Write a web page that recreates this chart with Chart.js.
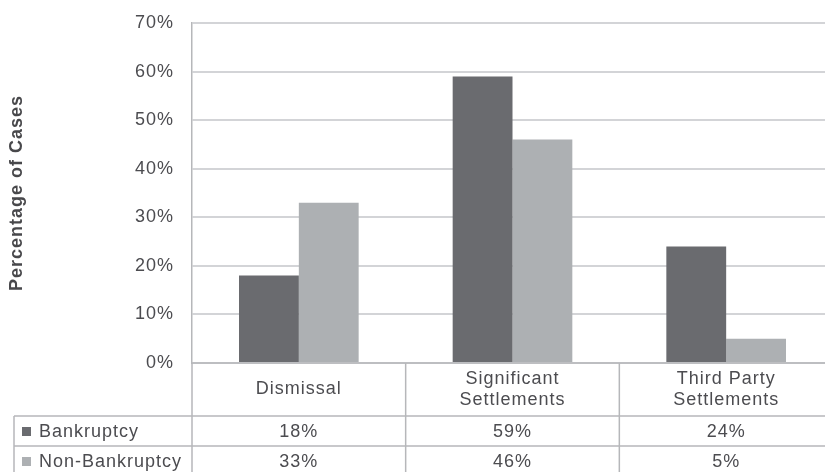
<!DOCTYPE html>
<html>
<head>
<meta charset="utf-8">
<script src="https://cdn.jsdelivr.net/npm/chart.js@4.4.0/dist/chart.umd.min.js"></script>
<style>
  html,body{margin:0;padding:0;background:#fff;overflow:hidden;}
  #wrap{width:825px;height:472px;overflow:hidden;}
</style>
</head>
<body>
<div id="wrap"><canvas id="chart" width="833" height="472"></canvas></div>
<script>
// data
const categories = [["Dismissal"], ["Significant", "Settlements"], ["Third Party", "Settlements"]];
const seriesNames = ["Bankruptcy", "Non-Bankruptcy"];
const bankruptcy = [18, 59, 24];
const nonBankruptcy = [33, 46, 5];
const yMax = 70, yStep = 10;

const colors = ["#6a6b6f", "#adb0b3"];
const textColor = "#4c4c50";
const lineColor = "#b6b7ba";
const fontFamily = "'Liberation Sans', Arial, sans-serif";

Chart.defaults.font.family = fontFamily;
Chart.defaults.font.size = 18;
Chart.defaults.color = textColor;

// tiny letter spacing to match the wide-ish print type
const spacing = {
  id: "spacing",
  beforeDraw(chart){ chart.ctx.letterSpacing = "1px"; }
};

// data table under the plot, columns follow the x scale
const dataTable = {
  id: "dataTable",
  afterDraw(chart){
    const ctx = chart.ctx, area = chart.chartArea, xs = chart.scales.x;
    const n = categories.length;
    const colW = (area.right - area.left) / n;
    const headH = 53, rowH = 30, tableLeft = 14;
    const bottom = chart.height;
    const r1 = area.bottom + headH, r2 = r1 + rowH;
    const rows = [bankruptcy, nonBankruptcy];

    ctx.save();
    ctx.letterSpacing = "1px";
    ctx.strokeStyle = lineColor;
    ctx.lineWidth = 1.5;
    ctx.beginPath();
    // horizontals
    [r1, r2].forEach(y => { ctx.moveTo(tableLeft, y); ctx.lineTo(chart.width, y); });
    ctx.moveTo(area.left, area.bottom); ctx.lineTo(chart.width, area.bottom);
    // verticals
    for(let i = 0; i < n; i++){
      const x = area.left + i * colW;
      ctx.moveTo(x, area.bottom); ctx.lineTo(x, bottom);
    }
    ctx.moveTo(tableLeft, r1); ctx.lineTo(tableLeft, bottom);
    ctx.stroke();

    ctx.fillStyle = textColor;
    ctx.font = "18px " + fontFamily;
    ctx.textBaseline = "middle";
    ctx.textAlign = "center";

    // header labels
    categories.forEach((lab, i) => {
      const cx = xs.getPixelForValue(i);
      const lh = 21;
      const y0 = area.bottom + headH / 2 - (lab.length - 1) * lh / 2;
      lab.forEach((t, k) => ctx.fillText(t, cx, y0 + k * lh));
    });

    // rows
    rows.forEach((vals, r) => {
      const cy = r1 + rowH * r + rowH / 2 + 1;
      vals.forEach((v, i) => ctx.fillText(v + "%", xs.getPixelForValue(i), cy));
      ctx.fillStyle = colors[r];
      ctx.fillRect(22, cy - 5, 9, 9);
      ctx.fillStyle = textColor;
      ctx.textAlign = "left";
      ctx.fillText(seriesNames[r], 39, cy);
      ctx.textAlign = "center";
    });
    ctx.restore();
  }
};

new Chart(document.getElementById("chart"), {
  type: "bar",
  data: {
    labels: categories.map(c => c.join(" ")),
    datasets: [
      {label: seriesNames[0], data: bankruptcy, backgroundColor: colors[0]},
      {label: seriesNames[1], data: nonBankruptcy, backgroundColor: colors[1]}
    ]
  },
  options: {
    responsive: false,
    animation: false,
    devicePixelRatio: 1,
    categoryPercentage: 0.56,
    barPercentage: 1.0,
    layout: {padding: {left: 0, right: 0, top: 23, bottom: 109}},
    plugins: {legend: {display: false}, tooltip: {enabled: false}},
    scales: {
      x: {display: false},
      y: {
        min: 0, max: yMax,
        afterFit(s){ s.width = 192; },
        ticks: {stepSize: yStep, padding: 2, callback: v => v + "%"},
        grid: {color: "#d3d4d7", lineWidth: 2, drawTicks: true, tickLength: 16, tickColor: "rgba(0,0,0,0)"},
        border: {color: lineColor, width: 1.5},
        title: {display: true, text: "Percentage of Cases", color: "#48484b",
                font: {size: 18, weight: "bold"}, padding: {top: 6}}
      }
    }
  },
  plugins: [spacing, dataTable]
});
</script>
</body>
</html>
